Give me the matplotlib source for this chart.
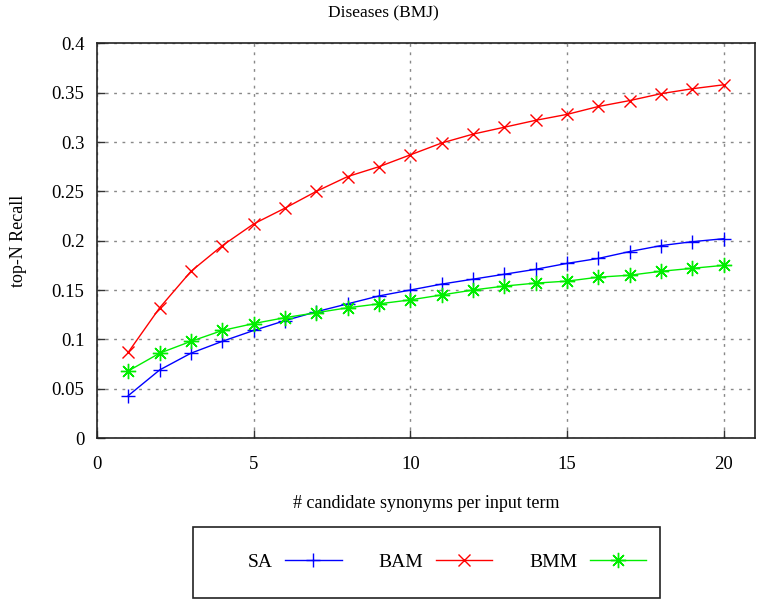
import matplotlib
matplotlib.use('Agg')
import matplotlib.pyplot as plt
from matplotlib.patches import Rectangle

plt.rcParams['font.family'] = ['Liberation Serif', 'DejaVu Serif']
plt.rcParams['font.size'] = 13

# candidate synonyms per input term
n_candidates = list(range(1, 21))

sa_recall = [0.043, 0.069, 0.086, 0.098, 0.109, 0.119, 0.128, 0.136, 0.144, 0.150,
             0.156, 0.161, 0.166, 0.171, 0.177, 0.182, 0.189, 0.195, 0.199, 0.202]
bam_recall = [0.087, 0.132, 0.169, 0.195, 0.217, 0.233, 0.250, 0.265, 0.275, 0.287,
              0.299, 0.308, 0.315, 0.322, 0.328, 0.336, 0.342, 0.349, 0.354, 0.358]
bmm_recall = [0.068, 0.086, 0.098, 0.109, 0.116, 0.122, 0.127, 0.132, 0.136, 0.140,
              0.145, 0.150, 0.154, 0.157, 0.159, 0.163, 0.165, 0.169, 0.172, 0.175]

series_names = ['SA', 'BAM', 'BMM']

fig = plt.figure(figsize=(7.59, 6.02), dpi=100)
ax = fig.add_axes([0.1278, 0.2724, 0.867, 0.6556])

ax.plot(n_candidates, sa_recall, color='#0000ff', lw=1, marker='+', ms=10, mew=1,
        label=series_names[0])
ax.plot(n_candidates, bam_recall, color='#ff0000', lw=1, marker='x', ms=9, mew=1,
        label=series_names[1])
ax.plot(n_candidates, bmm_recall, color='#00ee00', lw=1, marker=(8, 2, 0), ms=11, mew=1,
        label=series_names[2])

ax.set_xlim(0, 21)
ax.set_ylim(0, 0.4)
ax.set_xticks([0, 5, 10, 15, 20])
ax.set_yticks([0, 0.05, 0.1, 0.15, 0.2, 0.25, 0.3, 0.35, 0.4])
ax.set_yticklabels(['0', '0.05', '0.1', '0.15', '0.2', '0.25', '0.3', '0.35', '0.4'])
ax.tick_params(direction='in', length=6, width=1, color='#333333', labelsize=13.5)
ax.tick_params(axis='x', pad=13)
ax.tick_params(axis='y', pad=9)
ax.grid(True, color='#888888', linestyle=(0, (2, 4)), lw=1)
for sp in ax.spines.values():
    sp.set_linewidth(1.2)
    sp.set_color('#222222')

ax.set_xlabel('# candidate synonyms per input term', labelpad=16)
ax.set_ylabel('top-N Recall', labelpad=18)
fig.text(0.505, 0.978, 'Diseases (BMJ)', ha='center', va='center', fontsize=12.5)

# legend box below the plot
fig.patches.append(Rectangle((0.254, 0.006), 0.616, 0.118, transform=fig.transFigure,
                             fill=False, edgecolor='#222222', lw=1.2))
fig.legend(loc='center', bbox_to_anchor=(0.589, 0.066), ncol=3, frameon=False,
           markerfirst=False, handlelength=2.9, handletextpad=0.65,
           columnspacing=1.9, numpoints=1, fontsize=14)

fig.savefig('out.png', dpi=100)
